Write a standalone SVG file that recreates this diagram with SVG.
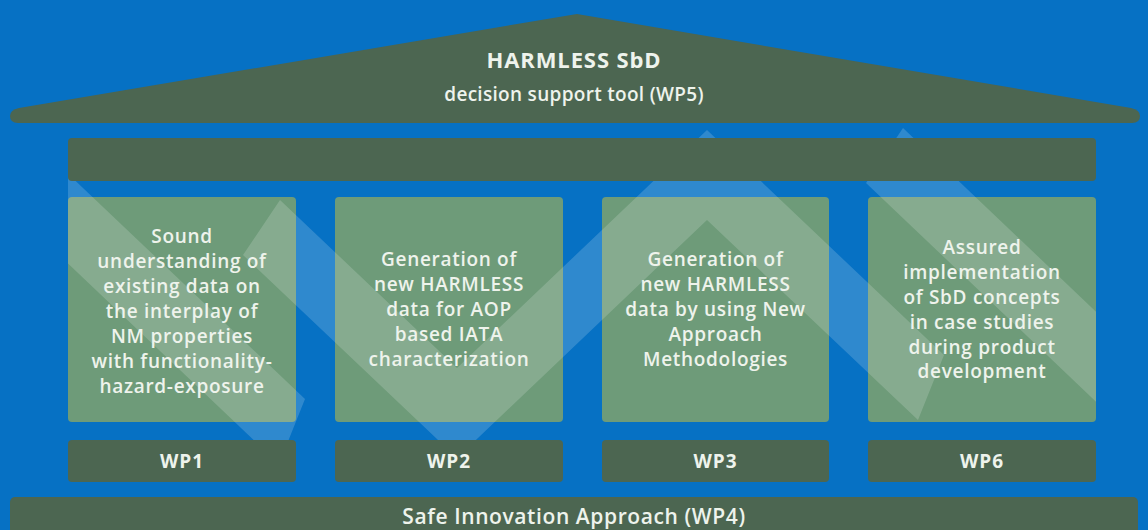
<svg xmlns="http://www.w3.org/2000/svg" width="1148" height="530" viewBox="0 0 1148 530">
  <style>
    .dark { fill: #4c6651; }
    .pillar { fill: #6e9b79; }
    .txt { fill: #eef3ec; font-family: "Open Sans", "Noto Sans", "DejaVu Sans", sans-serif; text-anchor: middle; }
    .body { font-size: 19px; font-weight: 600; letter-spacing: 0.7px; }
    .wp { font-size: 19px; font-weight: 700; letter-spacing: 1px; }
    .title { font-size: 22px; font-weight: 700; letter-spacing: 0.9px; }
    .sub { font-size: 19px; font-weight: 600; letter-spacing: 0.3px; }
    .base { font-size: 21px; font-weight: 600; letter-spacing: 0.6px; }
    .band { fill: #ffffff; fill-opacity: 0.17; }
  </style>
  <defs>
    <clipPath id="bandClip">
      <rect x="68" y="0" width="1028" height="530"/>
    </clipPath>
  </defs>

  <!-- background -->
  <rect x="0" y="0" width="1148" height="530" fill="#0671c4"/>

  <!-- pillar boxes -->
  <g id="pillar-wp1"><rect class="pillar" x="68" y="197" width="228" height="225" rx="4"/></g>
  <g id="pillar-wp2"><rect class="pillar" x="335" y="197" width="228" height="225" rx="4"/></g>
  <g id="pillar-wp3"><rect class="pillar" x="602" y="197" width="227" height="225" rx="4"/></g>
  <g id="pillar-wp6"><rect class="pillar" x="868" y="197" width="228" height="225" rx="4"/></g>

  <!-- translucent zigzag decoration behind the structure -->
  <g id="zigzag" clip-path="url(#bandClip)">
    <polygon class="band" points="40,147 305,399 279,464 40,237"/>
    <polygon class="band" points="280,200 457,368 707,130 944,355 918,420 707,220 457,458 243,255"/>
    <polygon class="band" points="903,128 1110,325 1110,415 866,183"/>
  </g>

  <!-- roof -->
  <g id="roof">
    <path class="dark" d="M577,14 L1131,108 Q1140,110 1140,116 Q1140,123 1132,123 L18,123 Q10,123 10,116 Q10,110 19,108 Z"/>
    <text class="txt title" x="574" y="68">HARMLESS SbD</text>
    <text class="txt sub" x="574" y="101">decision support tool (WP5)</text>
  </g>

  <!-- header beam -->
  <g id="beam"><rect class="dark" x="68" y="138" width="1028" height="43" rx="4"/></g>

  <!-- pillar texts -->
  <g id="text-wp1">
    <text class="txt body" x="182" y="243">Sound</text>
    <text class="txt body" x="182" y="268">understanding of</text>
    <text class="txt body" x="182" y="293">existing data on</text>
    <text class="txt body" x="182" y="318">the interplay of</text>
    <text class="txt body" x="182" y="343">NM properties</text>
    <text class="txt body" x="182" y="368">with functionality-</text>
    <text class="txt body" x="182" y="393">hazard-exposure</text>
  </g>
  <g id="text-wp2">
    <text class="txt body" x="449" y="266">Generation of</text>
    <text class="txt body" x="449" y="291">new HARMLESS</text>
    <text class="txt body" x="449" y="316">data for AOP</text>
    <text class="txt body" x="449" y="341">based IATA</text>
    <text class="txt body" x="449" y="366">characterization</text>
  </g>
  <g id="text-wp3">
    <text class="txt body" x="715.5" y="266">Generation of</text>
    <text class="txt body" x="715.5" y="291">new HARMLESS</text>
    <text class="txt body" x="715.5" y="316">data by using New</text>
    <text class="txt body" x="715.5" y="341">Approach</text>
    <text class="txt body" x="715.5" y="366">Methodologies</text>
  </g>
  <g id="text-wp6">
    <text class="txt body" x="982" y="254">Assured</text>
    <text class="txt body" x="982" y="279">implementation</text>
    <text class="txt body" x="982" y="304">of SbD concepts</text>
    <text class="txt body" x="982" y="329">in case studies</text>
    <text class="txt body" x="982" y="354">during product</text>
    <text class="txt body" x="982" y="378">development</text>
  </g>

  <!-- work package labels -->
  <g id="label-wp1"><rect class="dark" x="68" y="440" width="228" height="42" rx="4"/><text class="txt wp" x="182" y="468">WP1</text></g>
  <g id="label-wp2"><rect class="dark" x="335" y="440" width="228" height="42" rx="4"/><text class="txt wp" x="449" y="468">WP2</text></g>
  <g id="label-wp3"><rect class="dark" x="602" y="440" width="227" height="42" rx="4"/><text class="txt wp" x="715.5" y="468">WP3</text></g>
  <g id="label-wp6"><rect class="dark" x="868" y="440" width="228" height="42" rx="4"/><text class="txt wp" x="982" y="468">WP6</text></g>

  <!-- foundation -->
  <g id="foundation">
    <rect class="dark" x="10" y="497" width="1128" height="45" rx="5"/>
    <text class="txt base" x="574" y="524">Safe Innovation Approach (WP4)</text>
  </g>
</svg>
